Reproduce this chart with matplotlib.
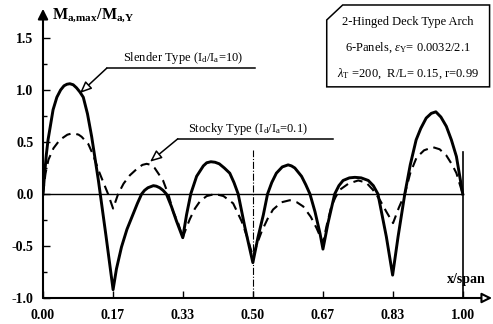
import numpy as np
import matplotlib
matplotlib.use("Agg")
import matplotlib.pyplot as plt
from matplotlib.patches import Polygon

plt.rcParams['font.family'] = ['Liberation Serif', 'DejaVu Serif']
plt.rcParams['mathtext.fontset'] = 'custom'
plt.rcParams['mathtext.rm'] = 'Liberation Serif'
plt.rcParams['mathtext.it'] = 'Liberation Serif:italic'
plt.rcParams['mathtext.bf'] = 'Liberation Serif:bold'

# slender type (Id/Ia = 10), solid line
slender_x = [0.0, 0.004, 0.008, 0.012, 0.017, 0.024, 0.033, 0.042, 0.05, 0.057, 0.064, 0.072, 0.08,
             0.088, 0.096, 0.106, 0.116, 0.132, 0.15, 0.167,
             0.175, 0.187, 0.20, 0.215, 0.225, 0.235, 0.242, 0.25, 0.263, 0.27, 0.278, 0.286,
             0.294, 0.306, 0.318, 0.333,
             0.342, 0.352, 0.366, 0.382, 0.39, 0.40, 0.41, 0.42, 0.432, 0.445, 0.455, 0.465,
             0.481, 0.5,
             0.512, 0.525, 0.535, 0.545, 0.556, 0.57, 0.584, 0.592, 0.60, 0.616, 0.626, 0.636,
             0.648, 0.66, 0.667,
             0.679, 0.695, 0.705, 0.715, 0.73, 0.743, 0.758, 0.775, 0.787, 0.798, 0.818, 0.833,
             0.846, 0.862, 0.875, 0.889, 0.90, 0.913, 0.925, 0.936, 0.948, 0.961, 0.973, 0.985, 1.0]
slender_y = [0.0, 0.20, 0.38, 0.52, 0.64, 0.81, 0.93, 1.00, 1.04, 1.055, 1.06, 1.05, 1.02,
             0.98, 0.93, 0.77, 0.55, 0.13, -0.40, -0.92,
             -0.72, -0.51, -0.34, -0.19, -0.09, 0.0, 0.035, 0.06, 0.08, 0.075, 0.06, 0.035,
             0.0, -0.12, -0.26, -0.42,
             -0.20, 0.0, 0.17, 0.27, 0.30, 0.31, 0.305, 0.29, 0.25, 0.20, 0.11, 0.0,
             -0.32, -0.66,
             -0.42, -0.20, 0.0, 0.11, 0.20, 0.26, 0.28, 0.27, 0.25, 0.17, 0.09, 0.0,
             -0.17, -0.38, -0.53,
             -0.28, 0.0, 0.08, 0.13, 0.155, 0.16, 0.155, 0.13, 0.08, 0.0, -0.41, -0.78,
             -0.41, 0.0, 0.28, 0.52, 0.63, 0.73, 0.775, 0.79, 0.74, 0.65, 0.52, 0.36, 0.0]

# stocky type (Id/Ia = 0.1), dashed line
stocky_x = [0.0, 0.006, 0.013, 0.025, 0.04, 0.058, 0.067, 0.076, 0.085, 0.092, 0.108, 0.12, 0.132,
            0.145, 0.155, 0.167,
            0.179, 0.192, 0.207, 0.226, 0.237, 0.247, 0.257, 0.266, 0.286, 0.30, 0.31, 0.322, 0.333,
            0.342, 0.35, 0.362, 0.374, 0.39, 0.41, 0.43, 0.453, 0.473, 0.487, 0.5,
            0.51, 0.521, 0.535, 0.548, 0.568, 0.588, 0.605, 0.62, 0.638, 0.652, 0.667,
            0.676, 0.687, 0.697, 0.707, 0.728, 0.751, 0.77, 0.786, 0.803, 0.818, 0.834,
            0.848, 0.862, 0.875, 0.89, 0.908, 0.929, 0.945, 0.961, 0.975, 0.985, 1.0]
stocky_y = [0.0, 0.20, 0.33, 0.44, 0.52, 0.57, 0.58, 0.58, 0.57, 0.55, 0.48, 0.37, 0.23,
            0.10, 0.0, -0.14,
            0.0, 0.10, 0.18, 0.25, 0.28, 0.29, 0.28, 0.25, 0.13, -0.02, -0.17, -0.28, -0.42,
            -0.32, -0.24, -0.14, -0.07, -0.02, 0.0, -0.02, -0.09, -0.26, -0.42, -0.60,
            -0.48, -0.36, -0.24, -0.15, -0.08, -0.06, -0.08, -0.12, -0.22, -0.33, -0.47,
            -0.30, -0.12, -0.03, 0.04, 0.10, 0.13, 0.11, 0.04, -0.06, -0.17, -0.28,
            -0.13, 0.0, 0.20, 0.35, 0.42, 0.45, 0.43, 0.37, 0.28, 0.20, 0.0]

xticks = [0.0, 1/6, 1/3, 0.5, 2/3, 5/6, 1.0]
xtick_labels = ["0.00", "0.17", "0.33", "0.50", "0.67", "0.83", "1.00"]
yticks = [-1.0, -0.5, 0.0, 0.5, 1.0, 1.5]
ytick_labels = ["-1.0", "-0.5", "0.0", "0.5", "1.0", "1.5"]

fig = plt.figure(figsize=(4.93, 3.24), dpi=100)
ax = fig.add_axes([43/493, 26/324, 447/493, 285/324])
ax.set_xlim(0, 1.065)
ax.set_ylim(-1.0, 1.74)
for s in ax.spines.values():
    s.set_visible(False)

ax.plot(slender_x, slender_y, color='black', lw=2.1, solid_joinstyle='round')
ax.plot(stocky_x, stocky_y, color='black', lw=1.5, dashes=(4.5, 2.8))

ax.plot([0, 1.0], [0, 0], color='black', lw=1.0)
ax.plot([1.0, 1.0], [-1.0, 0.40], color='black', lw=1.2)
ax.plot([0.5, 0.5], [-1.0, 0.42], color='black', lw=0.8, linestyle='-.')

# axes with arrows
ax.annotate('', xy=(0, 1.78), xytext=(0, -1.0), annotation_clip=False,
            arrowprops=dict(arrowstyle='-|>,head_length=0.6,head_width=0.3',
                            fc='black', ec='black', lw=1.5, shrinkA=0, shrinkB=0))
ax.annotate('', xy=(1.07, -1.0), xytext=(0, -1.0), annotation_clip=False,
            arrowprops=dict(arrowstyle='-|>,head_length=0.6,head_width=0.3',
                            fc='white', ec='black', lw=1.5, shrinkA=0, shrinkB=0))

ax.set_xticks(xticks)
ax.set_xticklabels(xtick_labels, fontweight='bold', fontsize=10)
ax.set_yticks(yticks)
ax.set_yticklabels(ytick_labels, fontweight='bold', fontsize=10)
ax.set_yticks([-0.75, -0.25, 0.25, 0.75, 1.25], minor=True)
ax.tick_params(axis='both', which='major', direction='in', length=5, width=1.0, pad=7)
ax.tick_params(axis='both', which='minor', direction='in', length=3, width=1.0)
ax.tick_params(axis='x', pad=8)

ax.text(0.022, 1.72, r"$\mathbf{M_{a{,}max}/M_{a{,}Y}}$", fontsize=11.5, ha='left', va='center')
ax.text(1.055, -0.88, "x/span", fontsize=10, fontweight='bold', ha='right', va='bottom')

# annotations
ax.plot([0.152, 0.505], [1.21, 1.21], color='black', lw=1.1)
ax.annotate('', xy=(0.088, 0.97), xytext=(0.152, 1.21),
            arrowprops=dict(arrowstyle='-|>,head_length=0.7,head_width=0.3',
                            fc='white', ec='black', lw=1.1, shrinkA=0, shrinkB=0))
ax.text(0.333, 1.23, r"Slender Type (I$_{\rm d}$/I$_{\rm a}$=10)", fontsize=9,
        ha='center', va='bottom')

ax.plot([0.321, 0.690], [0.53, 0.53], color='black', lw=1.1)
ax.annotate('', xy=(0.255, 0.31), xytext=(0.321, 0.53),
            arrowprops=dict(arrowstyle='-|>,head_length=0.7,head_width=0.3',
                            fc='white', ec='black', lw=1.1, shrinkA=0, shrinkB=0))
ax.text(0.488, 0.55, r"Stocky Type (I$_{\rm d}$/I$_{\rm a}$=0.1)", fontsize=9,
        ha='center', va='bottom')

# info box with clipped corner
box = Polygon([(0.676, 1.03), (0.676, 1.673), (0.714, 1.817), (1.064, 1.817), (1.064, 1.03)],
              closed=True, fill=False, ec='black', lw=1.1, clip_on=False)
ax.add_patch(box)
ax.text(0.87, 1.655, "2-Hinged Deck Type Arch", fontsize=9, ha='center', va='center')
ax.text(0.87, 1.405, r"6-Panels, $\varepsilon_{\rm Y}$= 0.0032/2.1", fontsize=9, ha='center', va='center')
ax.text(0.87, 1.16, r"$\lambda_{\rm T}$ =200,  R/L= 0.15, r=0.99", fontsize=9, ha='center', va='center')

fig.savefig("out.png", dpi=100)
